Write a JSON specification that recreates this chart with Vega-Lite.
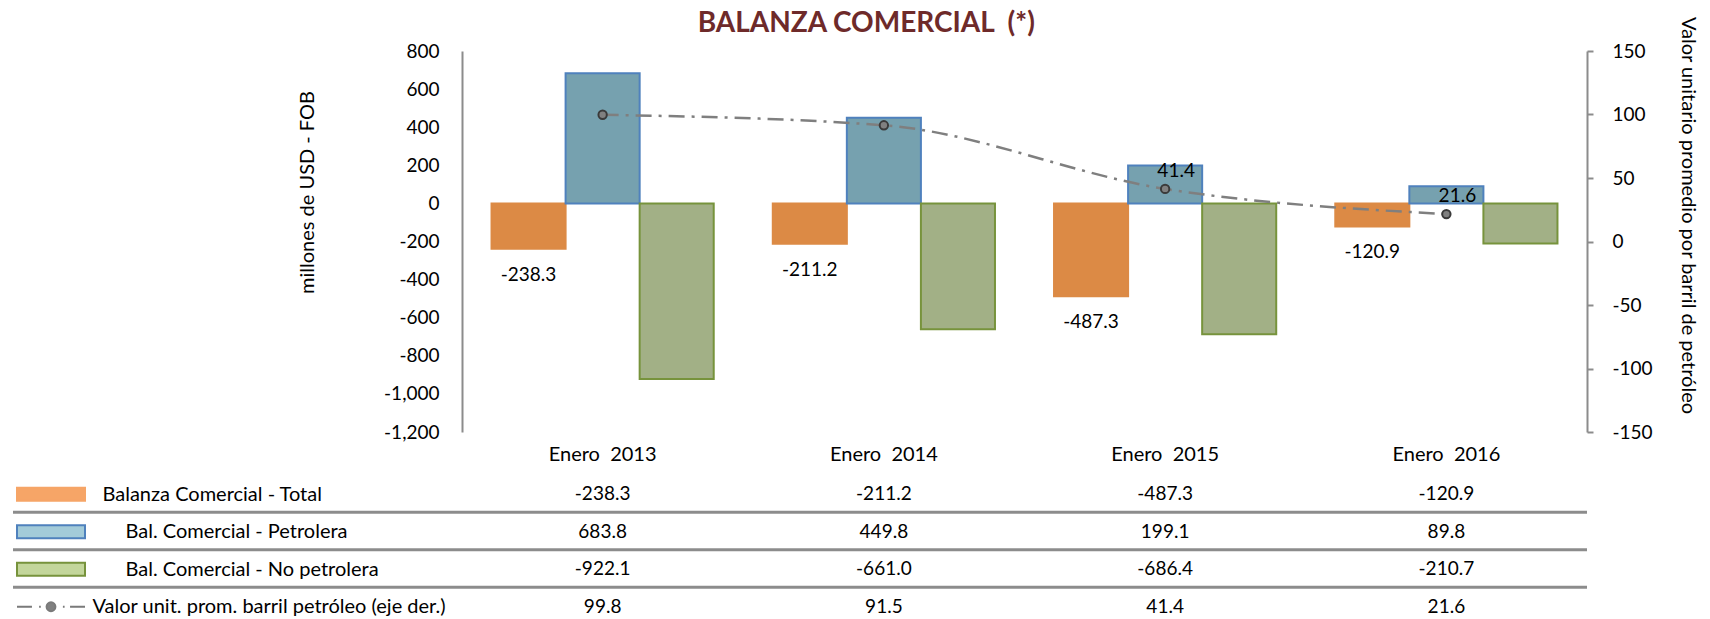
{
  "$schema": "https://vega.github.io/schema/vega-lite/v6.json",
  "padding": {"left": 11, "top": 10, "right": 10, "bottom": 0},
  "config": {
    "locale": {"number": {"decimal": ".", "thousands": ",", "grouping": [3], "currency": ["$", ""], "minus": "-"}},
    "view": {"stroke": null},
    "font": "Lato",
    "axis": {"labelFont": "Lato", "titleFont": "Lato", "labelFontSize": 19, "titleFontSize": 20, "labelColor": "#000000", "titleColor": "#000000", "titleFontWeight": "normal", "grid": false},
    "text": {"font": "Lato", "fontSize": 19, "color": "#000000"}
  },
  "title": {"text": "BALANZA COMERCIAL\u00a0\u00a0(*)", "font": "Lato", "fontSize": 28, "fontWeight": "bold", "color": "#6E2A2A", "anchor": "middle", "offset": -22, "dx": 12},
  "datasets": {
    "tabla": [
      {"anio": "Enero 2013", "serie": "Balanza Comercial - Total", "valor": -238.3},
      {"anio": "Enero 2013", "serie": "Bal. Comercial - Petrolera", "valor": 683.8},
      {"anio": "Enero 2013", "serie": "Bal. Comercial - No petrolera", "valor": -922.1},
      {"anio": "Enero 2013", "serie": "Valor unit. prom. barril petróleo (eje der.)", "valor": 99.8},
      {"anio": "Enero 2014", "serie": "Balanza Comercial - Total", "valor": -211.2},
      {"anio": "Enero 2014", "serie": "Bal. Comercial - Petrolera", "valor": 449.8},
      {"anio": "Enero 2014", "serie": "Bal. Comercial - No petrolera", "valor": -661.0},
      {"anio": "Enero 2014", "serie": "Valor unit. prom. barril petróleo (eje der.)", "valor": 91.5},
      {"anio": "Enero 2015", "serie": "Balanza Comercial - Total", "valor": -487.3},
      {"anio": "Enero 2015", "serie": "Bal. Comercial - Petrolera", "valor": 199.1},
      {"anio": "Enero 2015", "serie": "Bal. Comercial - No petrolera", "valor": -686.4},
      {"anio": "Enero 2015", "serie": "Valor unit. prom. barril petróleo (eje der.)", "valor": 41.4},
      {"anio": "Enero 2016", "serie": "Balanza Comercial - Total", "valor": -120.9},
      {"anio": "Enero 2016", "serie": "Bal. Comercial - Petrolera", "valor": 89.8},
      {"anio": "Enero 2016", "serie": "Bal. Comercial - No petrolera", "valor": -210.7},
      {"anio": "Enero 2016", "serie": "Valor unit. prom. barril petróleo (eje der.)", "valor": 21.6}
    ]
  },
  "bounds": "full",
  "spacing": 19,
  "resolve": {"scale": {"fill": "independent", "stroke": "independent", "shape": "independent"}},
  "vconcat": [
    {
      "bounds": "flush",
      "spacing": 0,
      "hconcat": [
        {"width": 449, "height": 381, "data": {"values": []}, "mark": "point"},
        {
          "width": 1125,
          "height": 381,
          "data": {"name": "tabla"},
          "encoding": {
            "x": {
              "field": "anio", "type": "nominal",
              "sort": ["Enero 2013", "Enero 2014", "Enero 2015", "Enero 2016"],
              "scale": {"paddingInner": 0.21, "paddingOuter": 0.105},
              "axis": {"orient": "bottom", "title": null, "domain": false, "ticks": false, "labelAngle": 0, "labelPadding": 12, "labelFontSize": 20, "labelExpr": "replace(datum.label, ' ', '\u00a0 ')"}
            }
          },
          "layer": [
            {
              "encoding": {
                "y": {
                  "field": "valor", "type": "quantitative",
                  "scale": {"domain": [-1200, 800], "nice": false, "zero": false},
                  "axis": {"orient": "left", "title": "millones de USD - FOB", "values": [-1200, -1000, -800, -600, -400, -200, 0, 200, 400, 600, 800], "format": ",.0f", "domainColor": "#8C8C8C", "domainWidth": 2, "ticks": false, "labelPadding": 23, "titleAngle": -90, "titleAlign": "center", "titleBaseline": "middle", "titleX": -155, "titleY": 141}
                },
                "xOffset": {
                  "field": "serie", "type": "nominal",
                  "sort": ["Balanza Comercial - Total", "Bal. Comercial - Petrolera", "Bal. Comercial - No petrolera"],
                  "scale": {"paddingInner": 0, "paddingOuter": 0}
                }
              },
              "layer": [
                {
                  "transform": [{"filter": "datum.serie != 'Valor unit. prom. barril petróleo (eje der.)'"}],
                  "mark": {"type": "bar", "strokeWidth": 2, "opacity": 1},
                  "encoding": {
                    "fill": {
                      "field": "serie", "type": "nominal", "legend": null,
                      "scale": {"domain": ["Balanza Comercial - Total", "Bal. Comercial - Petrolera", "Bal. Comercial - No petrolera"], "range": ["#DC8A45", "#76A1AF", "#A2B086"]}
                    },
                    "stroke": {
                      "field": "serie", "type": "nominal", "legend": null,
                      "scale": {"domain": ["Balanza Comercial - Total", "Bal. Comercial - Petrolera", "Bal. Comercial - No petrolera"], "range": ["#DC8A45", "#4F81BD", "#77933C"]}
                    }
                  }
                },
                {
                  "transform": [{"filter": "datum.serie == 'Balanza Comercial - Total'"}],
                  "mark": {"type": "text", "baseline": "middle", "dy": 26, "fontSize": 19},
                  "encoding": {"text": {"field": "valor", "type": "quantitative", "format": ".1f"}}
                }
              ]
            },
            {
              "transform": [{"filter": "datum.serie == 'Valor unit. prom. barril petróleo (eje der.)'"}],
              "encoding": {
                "y": {
                  "field": "valor", "type": "quantitative",
                  "scale": {"domain": [-150, 150], "nice": false, "zero": false},
                  "axis": {"orient": "right", "title": "Valor unitario promedio por barril de petróleo", "values": [-150, -100, -50, 0, 50, 100, 150], "format": "d", "domainColor": "#8C8C8C", "domainWidth": 2, "tickColor": "#8C8C8C", "tickWidth": 2, "tickSize": 6, "labelPadding": 19, "titleAngle": 90, "titleAlign": "center", "titleBaseline": "middle", "titleX": 100, "titleY": 164}
                }
              },
              "layer": [
                {
                  "mark": {"type": "line", "color": "#7F7F7F", "strokeWidth": 2.5, "strokeDash": [16, 7, 3, 7], "interpolate": "monotone"}
                },
                {
                  "mark": {"type": "point", "shape": "circle", "filled": true, "fill": "#808080", "stroke": "#3A3A3A", "strokeWidth": 2, "size": 70, "opacity": 1}
                },
                {
                  "transform": [{"filter": "datum.anio == 'Enero 2015' || datum.anio == 'Enero 2016'"}],
                  "mark": {"type": "text", "baseline": "middle", "dx": 11, "dy": -18, "fontSize": 19},
                  "encoding": {"text": {"field": "valor", "type": "quantitative", "format": ".1f"}}
                }
              ]
            }
          ],
          "resolve": {"scale": {"y": "independent"}}
        }
      ]
    },
    {
      "bounds": "flush",
      "spacing": 0,
      "hconcat": [
        {
          "width": 76,
          "height": 135,
          "data": {"name": "tabla"},
          "transform": [{"filter": "datum.anio == 'Enero 2013'"}],
          "encoding": {
            "y": {
              "field": "serie", "type": "nominal",
              "sort": ["Balanza Comercial - Total", "Bal. Comercial - Petrolera", "Bal. Comercial - No petrolera", "Valor unit. prom. barril petróleo (eje der.)"],
              "scale": {"type": "point", "padding": 0.3},
              "axis": {"orient": "right", "title": null, "domain": false, "ticks": false, "labelAlign": "left", "labelLimit": 0, "labelFontSize": 20,
                "labelPadding": {"condition": [{"test": "indexof(datum.value, 'Bal.') == 0", "value": 36}, {"test": "datum.value == 'Balanza Comercial - Total'", "value": 13}], "value": 3}}
            }
          },
          "layer": [
            {
              "transform": [{"filter": "datum.serie != 'Valor unit. prom. barril petróleo (eje der.)'"}],
              "mark": {"type": "rule", "stroke": "#8C8C8C", "strokeWidth": 3, "yOffset": 18}
            },
            {
              "mark": {"type": "point", "filled": true, "strokeWidth": 2, "opacity": 1},
              "encoding": {
                "size": {"value": 4624},
                "shape": {
                  "field": "serie", "type": "nominal", "legend": null,
                  "scale": {"domain": ["Balanza Comercial - Total", "Bal. Comercial - Petrolera", "Bal. Comercial - No petrolera", "Valor unit. prom. barril petróleo (eje der.)"],
                    "range": ["M-1,-0.19H1V0.19H-1Z", "M-1,-0.19H1V0.19H-1Z", "M-1,-0.19H1V0.19H-1Z", "M-1,0H-0.56M-0.35,0H-0.3M0.35,0H0.4M0.56,0H1M0.13,0A0.13,0.13 0 1 1 -0.13,0A0.13,0.13 0 1 1 0.13,0Z"]}
                },
                "fill": {
                  "field": "serie", "type": "nominal", "legend": null,
                  "scale": {"domain": ["Balanza Comercial - Total", "Bal. Comercial - Petrolera", "Bal. Comercial - No petrolera", "Valor unit. prom. barril petróleo (eje der.)"], "range": ["#F6A567", "#A3CBD9", "#C3D69B", "#808080"]}
                },
                "stroke": {
                  "field": "serie", "type": "nominal", "legend": null,
                  "scale": {"domain": ["Balanza Comercial - Total", "Bal. Comercial - Petrolera", "Bal. Comercial - No petrolera", "Valor unit. prom. barril petróleo (eje der.)"], "range": ["#F6A567", "#4F81BD", "#77933C", "#7A7A7A"]}
                }
              }
            }
          ]
        },
        {
          "width": 373,
          "height": 135,
          "data": {"name": "tabla"},
          "transform": [{"filter": "datum.anio == 'Enero 2013' && datum.serie != 'Valor unit. prom. barril petróleo (eje der.)'"}],
          "mark": {"type": "rule", "stroke": "#8C8C8C", "strokeWidth": 3, "yOffset": 18},
          "encoding": {
            "y": {
              "field": "serie", "type": "nominal",
              "sort": ["Balanza Comercial - Total", "Bal. Comercial - Petrolera", "Bal. Comercial - No petrolera", "Valor unit. prom. barril petróleo (eje der.)"],
              "scale": {"type": "point", "padding": 0.3, "domain": ["Balanza Comercial - Total", "Bal. Comercial - Petrolera", "Bal. Comercial - No petrolera", "Valor unit. prom. barril petróleo (eje der.)"]},
              "axis": null
            }
          }
        },
        {
          "width": 1125,
          "height": 135,
          "data": {"name": "tabla"},
          "encoding": {
            "y": {
              "field": "serie", "type": "nominal",
              "sort": ["Balanza Comercial - Total", "Bal. Comercial - Petrolera", "Bal. Comercial - No petrolera", "Valor unit. prom. barril petróleo (eje der.)"],
              "scale": {"type": "point", "padding": 0.3},
              "axis": null
            }
          },
          "layer": [
            {
              "transform": [{"filter": "datum.anio == 'Enero 2013' && datum.serie != 'Valor unit. prom. barril petróleo (eje der.)'"}],
              "mark": {"type": "rule", "stroke": "#8C8C8C", "strokeWidth": 3, "yOffset": 18}
            },
            {
              "mark": {"type": "text", "baseline": "middle", "fontSize": 19},
              "encoding": {
                "x": {
                  "field": "anio", "type": "nominal",
                  "sort": ["Enero 2013", "Enero 2014", "Enero 2015", "Enero 2016"],
                  "scale": {"paddingInner": 0.21, "paddingOuter": 0.105},
                  "axis": null
                },
                "text": {"field": "valor", "type": "quantitative", "format": ".1f"}
              }
            }
          ]
        }
      ]
    }
  ]
}
